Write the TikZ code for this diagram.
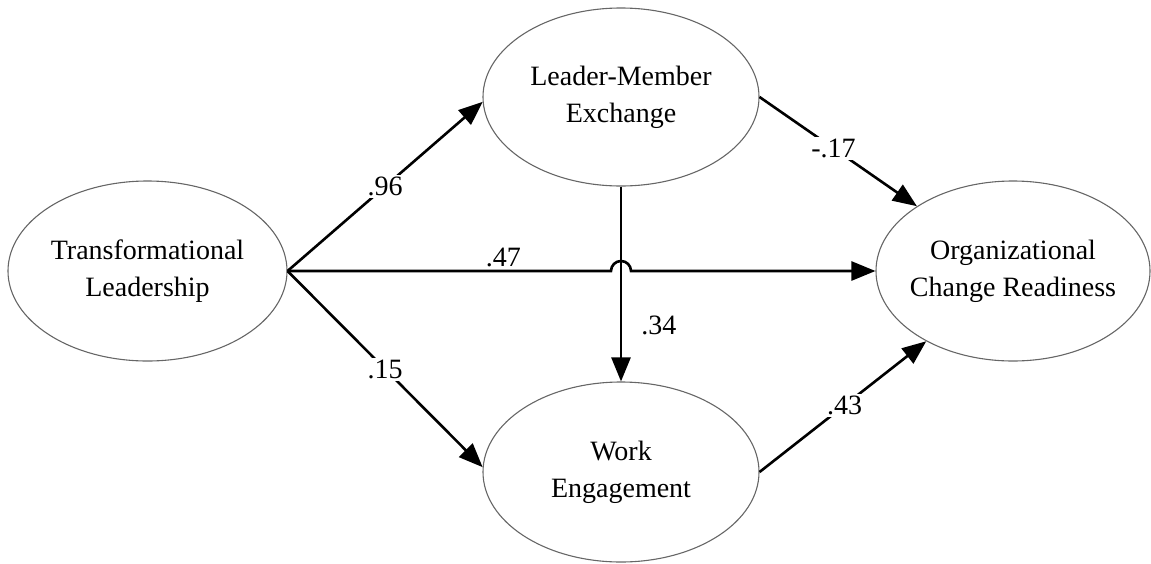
\documentclass[tikz,border=0pt]{standalone}
\usepackage{fontspec}
\setmainfont{Liberation Serif}
\usetikzlibrary{shapes.geometric,arrows.meta}
\begin{document}
\begin{tikzpicture}[x=1pt,y=-1pt,
  latent/.style={ellipse,draw=black!60,line width=1.1pt,inner sep=0pt},
  txt/.style={align=center,font=\fontsize{28}{37}\selectfont},
  arr/.style={line width=2.6pt,-{Triangle[length=24pt,width=19pt]}},
  lbl/.style={fill=white,inner sep=2pt,font=\fontsize{28}{34}\selectfont},
  plbl/.style={inner sep=1pt,font=\fontsize{28}{34}\selectfont}]
\useasboundingbox (0,0) rectangle (1151,563);
\node[latent,minimum width=279pt,minimum height=180pt] (TL) at (147.5,271) {};
\node[latent,minimum width=276pt,minimum height=178pt] (LMX) at (621,97) {};
\node[latent,minimum width=276pt,minimum height=180pt] (WE) at (621,472) {};
\node[latent,minimum width=274pt,minimum height=180pt] (OCR) at (1013,271) {};
\node[txt] (TLt) at (TL) {Transformational\\Leadership};
\node[txt] (LMXt) at (LMX) {Leader-Member\\Exchange};
\node[txt] (WEt) at (WE) {Work\\Engagement};
\node[txt] (OCRt) at (OCR) {Organizational\\Change Readiness};
\coordinate (hop) at (TL.east -| LMX.south);
\draw[arr] (TL.east) -- node[lbl] (l96) {.96} (LMX.182);
\draw[arr] (TL.east) -- node[lbl] (l15) {.15} (WE.178);
\draw[arr] (LMX.south) -- node[plbl,pos=0.71,right=18pt] (l34) {.34} (WE.north);
\draw[arr] (LMX.east) -- node[lbl,pos=0.47] (l17) {-.17} (OCR.146);
\draw[arr] (WE.east) -- node[lbl,pos=0.51] (l43) {.43} (OCR.219);
\draw[arr] (TL.east) -- node[plbl,pos=0.667,above=2pt] (l47) {.47} ([xshift=-10pt]hop) arc[start angle=180,end angle=0,radius=10pt] -- (OCR.west);
\end{tikzpicture}
\end{document}
